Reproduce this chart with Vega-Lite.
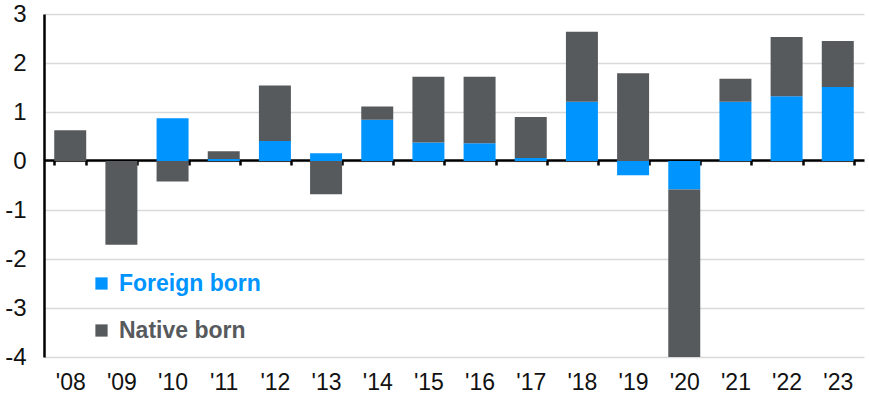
{
  "$schema": "https://vega.github.io/schema/vega-lite/v6.json",
  "width": 820,
  "height": 343,
  "autosize": "none",
  "padding": {"left": 44, "top": 14, "right": 5, "bottom": 45},
  "background": "white",
  "config": {
    "view": {"stroke": null},
    "font": "Liberation Sans"
  },
  "data": {
    "values": [
      {"year": "'08", "group": "Foreign born", "value": 0},
      {"year": "'08", "group": "Native born", "value": 0.63},
      {"year": "'09", "group": "Foreign born", "value": 0},
      {"year": "'09", "group": "Native born", "value": -1.71},
      {"year": "'10", "group": "Foreign born", "value": 0.87},
      {"year": "'10", "group": "Native born", "value": -0.42},
      {"year": "'11", "group": "Foreign born", "value": 0.04},
      {"year": "'11", "group": "Native born", "value": 0.16},
      {"year": "'12", "group": "Foreign born", "value": 0.41},
      {"year": "'12", "group": "Native born", "value": 1.13},
      {"year": "'13", "group": "Foreign born", "value": 0.16},
      {"year": "'13", "group": "Native born", "value": -0.68},
      {"year": "'14", "group": "Foreign born", "value": 0.84},
      {"year": "'14", "group": "Native born", "value": 0.27},
      {"year": "'15", "group": "Foreign born", "value": 0.38},
      {"year": "'15", "group": "Native born", "value": 1.34},
      {"year": "'16", "group": "Foreign born", "value": 0.36},
      {"year": "'16", "group": "Native born", "value": 1.36},
      {"year": "'17", "group": "Foreign born", "value": 0.06},
      {"year": "'17", "group": "Native born", "value": 0.84},
      {"year": "'18", "group": "Foreign born", "value": 1.21},
      {"year": "'18", "group": "Native born", "value": 1.43},
      {"year": "'19", "group": "Foreign born", "value": -0.29},
      {"year": "'19", "group": "Native born", "value": 1.79},
      {"year": "'20", "group": "Foreign born", "value": -0.58},
      {"year": "'20", "group": "Native born", "value": -3.42},
      {"year": "'21", "group": "Foreign born", "value": 1.21},
      {"year": "'21", "group": "Native born", "value": 0.47},
      {"year": "'22", "group": "Foreign born", "value": 1.32},
      {"year": "'22", "group": "Native born", "value": 1.21},
      {"year": "'23", "group": "Foreign born", "value": 1.51},
      {"year": "'23", "group": "Native born", "value": 0.94}
    ]
  },
  "layer": [
    {
      "mark": {"type": "bar", "clip": true},
      "encoding": {
        "x": {
          "field": "year",
          "type": "nominal",
          "sort": null,
          "scale": {"paddingInner": 0.375, "paddingOuter": 0.2},
          "axis": {
            "title": null,
            "offset": -197,
            "domain": true,
            "domainColor": "black",
            "domainWidth": 2.5,
            "ticks": true,
            "tickBand": "extent",
            "tickColor": "black",
            "tickWidth": 2.5,
            "tickSize": 5,
            "labelAngle": 0,
            "labelFontSize": 23,
            "labelColor": "#111111",
            "labelPadding": 206,
            "grid": false
          }
        },
        "y": {
          "field": "value",
          "type": "quantitative",
          "stack": "zero",
          "scale": {"domain": [-4, 3], "nice": false},
          "axis": {
            "title": null,
            "values": [-4, -3, -2, -1, 0, 1, 2, 3],
            "labelExpr": "replace(datum.label, '\u2212', '-')",
            "domain": true,
            "domainColor": "black",
            "domainWidth": 2.5,
            "ticks": false,
            "labelFontSize": 24,
            "labelColor": "#111111",
            "labelPadding": 18,
            "grid": true,
            "gridColor": "#d9d9d9",
            "gridWidth": 1.5
          }
        },
        "color": {
          "field": "group",
          "type": "nominal",
          "scale": {"domain": ["Foreign born", "Native born"], "range": ["#0094ff", "#575a5d"]},
          "legend": {
            "title": null,
            "orient": "none",
            "legendX": 46,
            "legendY": 258,
            "padding": 0,
            "symbolType": "square",
            "symbolSize": 150,
            "symbolStrokeWidth": 0,
            "labelFontSize": 23,
            "labelFontWeight": "bold",
            "labelOffset": 6,
            "rowPadding": 23,
            "encode": {
              "labels": {"update": {"fill": {"signal": "scale('color', datum.value)"}}}
            }
          }
        },
        "order": {"field": "group", "sort": "ascending"}
      }
    }
  ]
}
